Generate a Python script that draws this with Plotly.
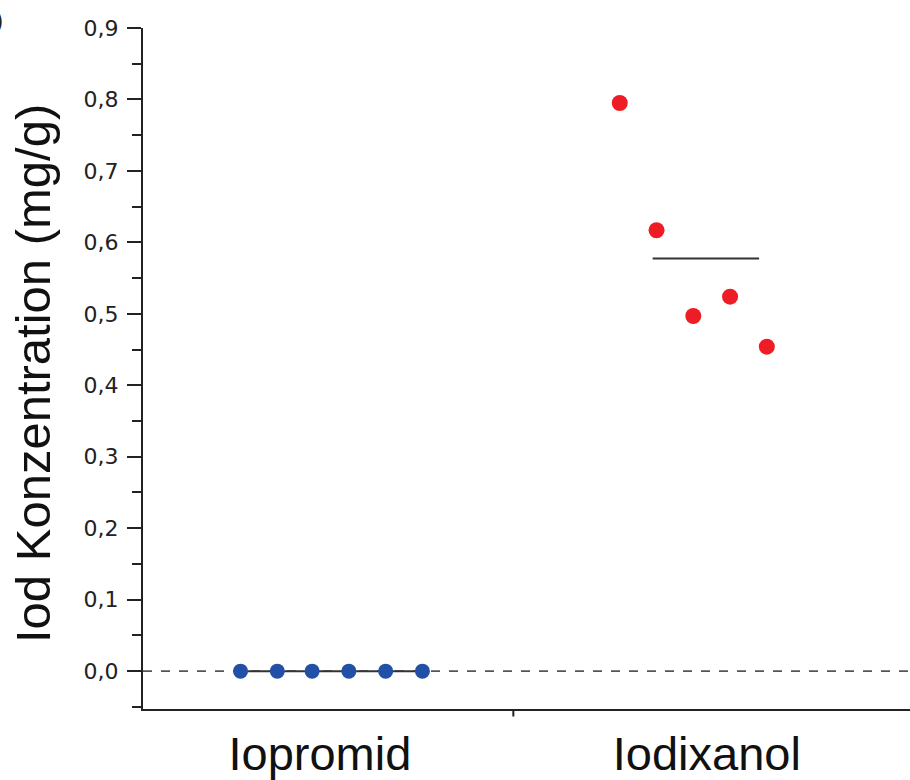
import plotly.graph_objects as go
import numpy as np

categories = ["Iopromid", "Iodixanol"]
iopromid_vals = [0.0, 0.0, 0.0, 0.0, 0.0, 0.0]
iodixanol_vals = [0.795, 0.617, 0.497, 0.524, 0.454]
# horizontal jitter of the individual points (category units)
iopromid_jitter = [-0.205, -0.11, -0.02, 0.075, 0.17, 0.265]
iodixanol_jitter = [-0.225, -0.13, -0.035, 0.06, 0.155]
y_ticks = [0.0, 0.1, 0.2, 0.3, 0.4, 0.5, 0.6, 0.7, 0.8, 0.9]
y_title = "Iod Konzentration (mg/g)"

# mean-line extents (category units, relative to category centre)
mean_span = [(-0.205, 0.265), (-0.14, 0.135)]

L, T, PW, PH = 143, 28, 767, 681

fig = go.Figure()

# dashed zero line
fig.add_shape(type="line", xref="paper", yref="y", x0=0, x1=1, y0=0, y1=0,
              line=dict(color="#555555", width=1.6, dash="dash"), layer="below")

for i, (vals, jit, col, sz) in enumerate([
        (iopromid_vals, iopromid_jitter, "#2150a6", 15),
        (iodixanol_vals, iodixanol_jitter, "#ee1c25", 16)]):
    m = float(np.mean(vals))
    fig.add_trace(go.Scatter(x=[i + mean_span[i][0], i + mean_span[i][1]], y=[m, m],
                             mode="lines", line=dict(color="#333333", width=2),
                             showlegend=False, hoverinfo="skip"))
    fig.add_trace(go.Scatter(x=[i + j for j in jit], y=vals, mode="markers",
                             marker=dict(color=col, size=sz, line=dict(width=0)),
                             showlegend=False, name=categories[i]))

# small tick between categories on the x axis
fig.add_shape(type="line", xref="x", yref="paper", x0=0.5, x1=0.5, y0=0, y1=-0.011,
              line=dict(color="#222222", width=2))

fig.update_layout(
    width=910, height=780,
    margin=dict(l=L, r=910 - L - PW, t=T, b=780 - T - PH),
    paper_bgcolor="white", plot_bgcolor="white",
    separators=",.",
    font=dict(family="Liberation Sans, Arial, sans-serif", color="#222222"),
    xaxis=dict(range=[-0.457, 1.525], tickvals=[0, 1], ticktext=categories,
               ticks="", showgrid=False, zeroline=False, showline=True,
               linecolor="#222222", linewidth=2, automargin=False,
               tickfont=dict(size=47, color="#111111"), ticklabelstandoff=3),
    yaxis=dict(range=[-0.053, 0.9], tickvals=y_ticks, tickformat=".1f",
               ticks="outside", ticklen=14, tickwidth=2, tickcolor="#222222",
               minor=dict(ticks="outside", ticklen=9, tickwidth=2, tickcolor="#222222",
                          dtick=0.05, tick0=0),
               showgrid=False, zeroline=False, showline=True,
               linecolor="#222222", linewidth=2, automargin=False,
               tickfont=dict(family="DejaVu Sans, sans-serif", size=22, color="#222222"),
               ticklabelstandoff=4),
)

fig.add_annotation(text=y_title, xref="paper", yref="paper",
                   x=(33 - L) / PW, y=(T + PH - 374) / PH, textangle=-90,
                   xanchor="center", yanchor="middle", showarrow=False,
                   font=dict(size=49, color="#111111"))

fig.add_annotation(text="b)", xref="paper", yref="paper", x=(5 - L) / PW, y=1 + 8 / PH,
                   xanchor="right", yanchor="middle", showarrow=False,
                   font=dict(size=26, color="#222222"))

fig.write_html("out.html")
